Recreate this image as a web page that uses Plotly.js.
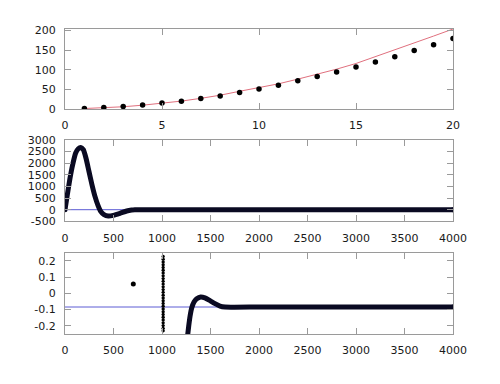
<!DOCTYPE html>
<html>
<head>
<meta charset="utf-8">
<script src="https://cdn.plot.ly/plotly-3.0.1.min.js"></script>
<style>html,body{margin:0;padding:0;background:#fff;}#plot{width:500px;height:384px;}</style>
</head>
<body>
<div id="plot"></div>
<script>
// ---- Panel 1 data ----
var p1X = [1,2,3,4,5,6,7,8,9,10,11,12,13,14,15,16,17,18,19,20];
var p1Dots = [1,3.3,6,10,15,19.5,26.5,33,42,51,60.5,72,83,94,107,119.5,133,149,164,179.5];
var p1Curve = [1,3,5.5,9.5,14.5,20,27,35,45,54,64,76,88,101.5,116,133,150,167,186,204];

// ---- Panel 2 data ----
var p2X = [0,24,52,79,110,137,162,189,216,247,278,309,340,368,402,447,498,567,636,687,720,1000,1500,2000,2500,3000,3500,4000];
var p2Y = [0,646,1364,1937,2440,2626,2682,2583,2225,1650,1076,574,187,-72,-215,-273,-244,-158,-57,-14,0,0,0,0,0,0,0,0];
var p2RefX = [0,4000];
var p2RefY = [0,0];

// ---- Panel 3 data ----
var p3LoneX = [704];
var p3LoneY = [0.058];
var p3ColX = [1012,1012,1012,1012,1012,1012,1012,1012,1012,1012,1012,1012,1012,1012,1012,1012,1012,1012,1012,1012,1012,1012,1012,1012,1012,1012,1012,1012];
var p3ColY = [0.227,0.210,0.193,0.176,0.159,0.142,0.125,0.108,0.091,0.074,0.057,0.040,0.023,0.006,-0.011,-0.028,-0.045,-0.062,-0.079,-0.096,-0.113,-0.130,-0.147,-0.164,-0.181,-0.198,-0.215,-0.230];
var p3X = [1262,1275,1289,1306,1330,1358,1399,1443,1495,1547,1598,1650,2000,2500,3000,3500,4000];
var p3Y = [-0.27,-0.203,-0.142,-0.090,-0.053,-0.033,-0.022,-0.028,-0.045,-0.063,-0.078,-0.084,-0.084,-0.084,-0.084,-0.084,-0.084];
var p3RefX = [0,4000];
var p3RefY = [-0.084,-0.084];

// ---- Tick labels ----
var p1XTicks = [0,5,10,15,20];
var p1YTicks = [0,50,100,150,200];
var p2XTicks = [0,500,1000,1500,2000,2500,3000,3500,4000];
var p2YTicks = [-500,0,500,1000,1500,2000,2500,3000];
var p3YTicks = [-0.2,-0.1,0,0.1,0.2];
var p3YTickText = ['-0.2','-0.1','0','0.1','0.2'];
var p2YTickText = ['-500','0','500','1000','1500','2000','2500','3000'];

var DARK = '#0a0a22';
var BLUE = '#5c5cd4';
var RED = '#e0707e';

var traces = [
  {x: p1X, y: p1Curve, mode: 'lines', line: {color: RED, width: 1}, xaxis: 'x', yaxis: 'y', hoverinfo: 'skip'},
  {x: p1X, y: p1Dots, mode: 'markers', marker: {color: '#000', size: 5.5}, xaxis: 'x', yaxis: 'y'},

  {x: p2RefX, y: p2RefY, mode: 'lines', line: {color: BLUE, width: 1}, xaxis: 'x2', yaxis: 'y2'},
  {x: p2X, y: p2Y, mode: 'lines', line: {color: DARK, width: 5, shape: 'spline', smoothing: 0.6}, xaxis: 'x2', yaxis: 'y2'},
  {x: [p2X[0], p2X[p2X.length-1]], y: [p2Y[0], p2Y[p2Y.length-1]], mode: 'markers', marker: {color: DARK, size: 5}, xaxis: 'x2', yaxis: 'y2'},

  {x: p3RefX, y: p3RefY, mode: 'lines', line: {color: BLUE, width: 1}, xaxis: 'x3', yaxis: 'y3'},
  {x: p3LoneX, y: p3LoneY, mode: 'markers', marker: {color: '#000', size: 5}, xaxis: 'x3', yaxis: 'y3'},
  {x: p3ColX, y: p3ColY, mode: 'markers', marker: {color: '#000', size: 3.3}, xaxis: 'x3', yaxis: 'y3'},
  {x: p3X, y: p3Y, mode: 'lines', line: {color: DARK, width: 5, shape: 'spline', smoothing: 0.6}, xaxis: 'x3', yaxis: 'y3'},
  {x: [p3X[p3X.length-1]], y: [p3Y[p3Y.length-1]], mode: 'markers', marker: {color: DARK, size: 5}, xaxis: 'x3', yaxis: 'y3'}
];

function ax(extra) {
  var base = {
    showgrid: false, zeroline: false,
    showline: true, linecolor: '#9a9a9a', linewidth: 1, mirror: 'ticks',
    ticks: 'inside', ticklen: 6, tickcolor: '#9a9a9a', tickwidth: 1,
    tickfont: {family: 'DejaVu Sans', size: 11, color: '#1a1a1a'},
    tickmode: 'array', fixedrange: true
  };
  for (var k in extra) base[k] = extra[k];
  return base;
}

var layout = {
  width: 500, height: 384,
  margin: {l: 65, r: 47, t: 29, b: 50},
  paper_bgcolor: '#fff', plot_bgcolor: '#fff',
  showlegend: false,
  xaxis: ax({domain: [0, 1], range: [0, 20], tickvals: p1XTicks, anchor: 'y', ticklabelstandoff: 6}),
  yaxis: ax({domain: [0.738, 1], range: [0, 204], tickvals: p1YTicks, anchor: 'x', ticklabelstandoff: 6}),
  xaxis2: ax({domain: [0, 1], range: [0, 4000], tickvals: p2XTicks, anchor: 'y2', ticklabelstandoff: 6}),
  yaxis2: ax({domain: [0.3695, 0.636], range: [-500, 3000], tickvals: p2YTicks, ticktext: p2YTickText, anchor: 'x2', ticklabelstandoff: 6}),
  xaxis3: ax({domain: [0, 1], range: [0, 4000], tickvals: p2XTicks, anchor: 'y3', ticklabelstandoff: 6}),
  yaxis3: ax({domain: [0, 0.2666], range: [-0.25, 0.25], tickvals: p3YTicks, ticktext: p3YTickText, anchor: 'x3', ticklabelstandoff: 6})
};

Plotly.newPlot('plot', traces, layout, {displayModeBar: false, staticPlot: true});
</script>
</body>
</html>
